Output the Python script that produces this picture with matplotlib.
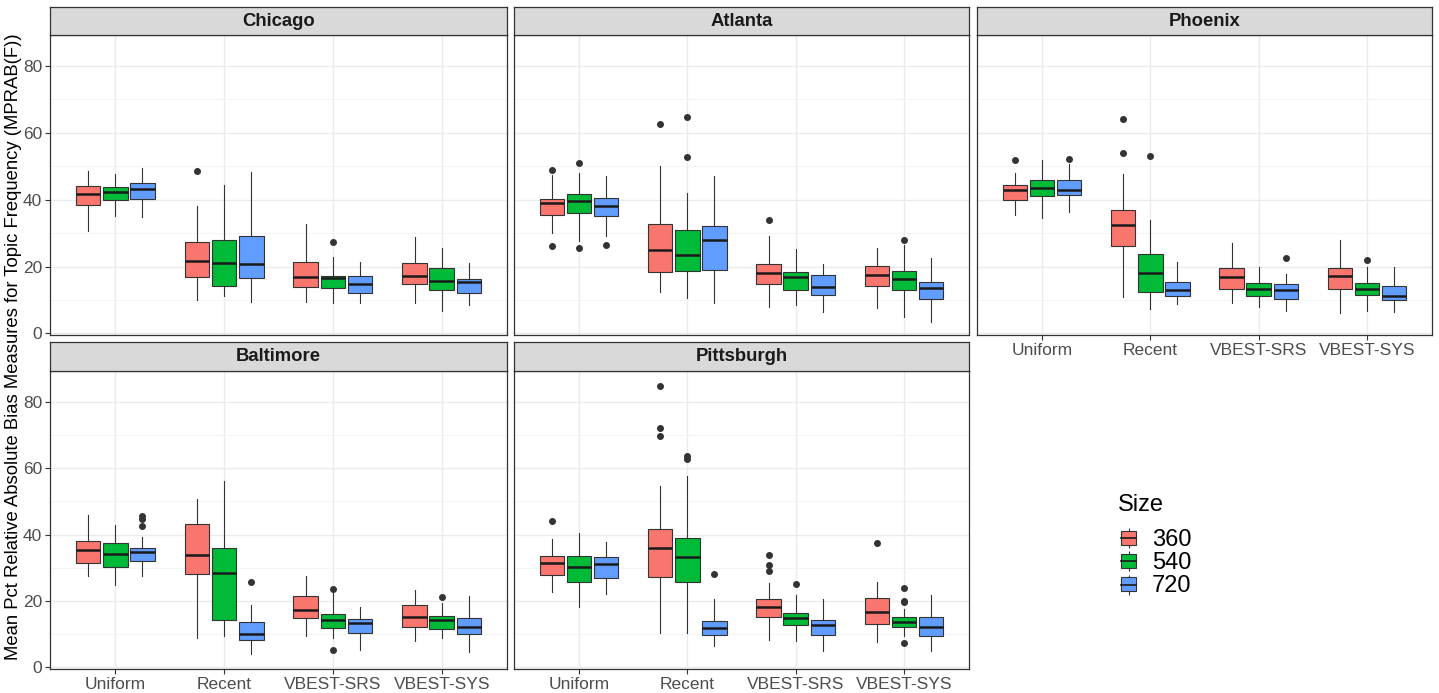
import matplotlib
matplotlib.use("Agg")
import matplotlib.pyplot as plt
from matplotlib.patches import Patch
from matplotlib.lines import Line2D
from matplotlib.legend_handler import HandlerTuple

plt.rcParams['font.family'] = ['Liberation Sans', 'DejaVu Sans']

# categories
methods = ["Uniform", "Recent", "VBEST-SRS", "VBEST-SYS"]
sizes = ["360", "540", "720"]
colors = ["#F8766D", "#00BA38", "#619CFF"]

# box stats: (whislo, q1, med, q3, whishi)
# order: Uniform 360/540/720, Recent 360/540/720, VBEST-SRS ..., VBEST-SYS ...
chicago_box = [
    [30.7, 38.5, 41.7, 44.2, 48.5], [35.2, 39.9, 42.2, 43.8, 47.8], [34.8, 40.3, 43.3, 45.0, 49.5],
    [10.0, 16.8, 21.8, 27.2, 38.2], [11.3, 14.3, 21.2, 27.9, 44.5], [9.3, 16.5, 20.9, 29.2, 48.3],
    [9.3, 14.0, 17.0, 21.3, 32.7], [9.0, 13.5, 16.5, 17.2, 22.8], [9.0, 12.0, 14.7, 17.2, 21.3],
    [9.0, 14.8, 17.2, 21.0, 28.7], [6.8, 13.0, 15.8, 19.5, 25.6], [8.4, 12.0, 15.5, 16.4, 21.2],
]
chicago_out = [[], [], [], [48.5], [], [], [], [27.3], [], [], [], []]

atlanta_box = [
    [30.0, 35.3, 38.9, 40.3, 47.5], [27.7, 36.0, 39.7, 41.7, 48.0], [29.0, 35.0, 38.1, 40.6, 47.0],
    [12.3, 18.3, 24.8, 32.7, 50.0], [10.5, 18.7, 23.4, 30.8, 42.0], [9.0, 19.0, 28.0, 32.2, 47.0],
    [8.0, 14.8, 18.0, 20.7, 29.0], [8.5, 13.0, 17.0, 18.5, 25.3], [6.5, 11.5, 14.0, 17.5, 20.8],
    [7.7, 14.3, 17.4, 20.2, 25.5], [5.0, 13.0, 16.3, 18.8, 26.5], [3.5, 10.2, 13.6, 15.5, 22.5],
]
atlanta_out = [[48.8, 26.2], [51.0, 25.4], [26.5], [62.6], [64.9, 52.9], [],
               [33.9], [], [], [], [28.0], []]

phoenix_box = [
    [35.5, 39.9, 42.9, 44.4, 48.0], [34.5, 41.0, 43.6, 46.0, 52.0], [36.3, 41.5, 43.0, 45.8, 50.8],
    [11.0, 26.2, 32.4, 36.8, 47.8], [7.2, 12.3, 18.0, 23.7, 34.0], [8.8, 11.1, 13.0, 15.3, 21.3],
    [9.0, 13.2, 17.0, 19.5, 27.0], [8.0, 11.1, 13.4, 15.2, 20.0], [6.8, 10.2, 12.9, 14.7, 17.8],
    [6.0, 13.2, 17.2, 19.7, 27.8], [6.7, 11.4, 13.3, 15.2, 19.8], [6.5, 9.9, 11.2, 14.2, 19.8],
]
phoenix_out = [[51.8], [], [52.3], [64.3, 54.0], [53.2], [],
               [], [], [22.5], [], [21.9], []]

baltimore_box = [
    [27.4, 31.4, 35.4, 38.0, 45.9], [24.7, 30.3, 34.2, 37.4, 42.9], [27.6, 32.0, 34.8, 36.0, 39.4],
    [8.7, 28.1, 33.8, 43.1, 50.8], [9.5, 14.4, 28.3, 36.0, 56.1], [4.0, 8.3, 10.1, 13.7, 18.9],
    [9.5, 15.0, 17.2, 21.6, 27.4], [8.7, 12.0, 14.3, 16.0, 22.4], [5.3, 10.3, 13.3, 14.5, 18.1],
    [8.0, 12.3, 15.3, 18.9, 23.4], [8.7, 11.7, 14.2, 15.5, 19.4], [4.5, 10.0, 12.3, 14.9, 21.4],
]
baltimore_out = [[], [], [45.7, 44.7, 42.7], [], [], [25.7],
                 [], [23.6, 5.2], [], [], [21.3], []]

pittsburgh_box = [
    [22.7, 27.8, 31.3, 33.6, 38.6], [18.2, 25.6, 30.2, 33.6, 40.4], [22.1, 27.0, 31.1, 33.1, 37.9],
    [10.3, 27.3, 35.9, 41.8, 54.6], [10.3, 25.7, 33.2, 39.0, 57.8], [6.5, 9.6, 12.0, 14.0, 20.6],
    [8.2, 15.3, 18.1, 20.6, 25.4], [7.8, 12.8, 14.9, 16.5, 21.9], [5.0, 9.8, 12.9, 14.3, 20.6],
    [7.7, 13.2, 16.7, 20.8, 25.7], [9.5, 12.2, 13.7, 15.3, 17.5], [4.8, 9.5, 12.1, 15.3, 21.7],
]
pittsburgh_out = [[44.2], [], [], [84.9, 72.2, 69.7], [63.6, 62.8], [28.2],
                  [33.9, 30.9, 29.0], [25.2], [], [37.4], [23.8, 19.9, 19.7, 7.3], []]

cities = ["Chicago", "Atlanta", "Phoenix", "Baltimore", "Pittsburgh"]
city_box = [chicago_box, atlanta_box, phoenix_box, baltimore_box, pittsburgh_box]
city_out = [chicago_out, atlanta_out, phoenix_out, baltimore_out, pittsburgh_out]

W, H = 1439, 693
fig = plt.figure(figsize=(W / 100, H / 100), dpi=100)

# panel boxes in pixels: left, right, strip top, panel top, panel bottom
col_x = [(50, 507), (514, 969), (977, 1432)]
row_y = [(7, 35, 335), (342, 371, 669)]


def px_axes(l, t, r, b):
    return fig.add_axes([l / W, 1 - b / H, (r - l) / W, (b - t) / H])


edge = "#333333"
for k, city in enumerate(cities):
    row, col = divmod(k, 3)
    l, r = col_x[col]
    st, t, b = row_y[row]

    ax = px_axes(l, t, r, b)
    stats = []
    pos = []
    cols = []
    for i in range(len(methods)):
        for j in range(len(sizes)):
            lo, q1, med, q3, hi = city_box[k][i * 3 + j]
            stats.append(dict(whislo=lo, q1=q1, med=med, q3=q3, whishi=hi,
                              fliers=city_out[k][i * 3 + j]))
            pos.append(i + 1 + (j - 1) * 0.25)
            cols.append(colors[j])
    bp = ax.bxp(stats, positions=pos, widths=0.225, patch_artist=True, showcaps=False,
                boxprops=dict(edgecolor=edge, linewidth=0.8),
                medianprops=dict(color="#1a1a1a", linewidth=1.8),
                whiskerprops=dict(color=edge, linewidth=0.8),
                flierprops=dict(marker="o", markersize=4, markerfacecolor=edge,
                                markeredgecolor=edge, linestyle="none"),
                manage_ticks=False)
    for patch, c in zip(bp["boxes"], cols):
        patch.set_facecolor(c)

    ax.set_xlim(0.4, 4.6)
    ax.set_ylim(-0.5, 89.3)
    ax.set_xticks(range(1, 5))
    ax.set_yticks([0, 20, 40, 60, 80])
    ax.set_yticks([10, 30, 50, 70], minor=True)
    ax.set_axisbelow(True)
    ax.grid(True, which="major", color="#EBEBEB", linewidth=1.0)
    ax.grid(True, which="minor", axis="y", color="#F2F2F2", linewidth=0.6)
    for s in ax.spines.values():
        s.set_color(edge)
        s.set_linewidth(0.9)
    ax.tick_params(which="minor", length=0)
    ax.tick_params(which="major", length=3.5, color=edge, labelcolor="#4D4D4D",
                   labelsize=12.5, pad=2)

    # x labels only on the lowest panel of each column, y labels on first column
    if k >= 2:
        ax.set_xticklabels(methods)
    else:
        ax.tick_params(axis="x", length=0, labelbottom=False)
    if col == 0:
        ax.set_yticklabels(["0", "20", "40", "60", "80"])
    else:
        ax.tick_params(axis="y", length=0, labelleft=False)

    sax = px_axes(l, st, r, t)
    sax.set_facecolor("#D9D9D9")
    sax.set_xticks([])
    sax.set_yticks([])
    for s in sax.spines.values():
        s.set_color(edge)
        s.set_linewidth(0.9)
    sax.text(0.5, 0.5, city, ha="center", va="center", fontsize=13.3,
             fontweight="bold", color="#1A1A1A", transform=sax.transAxes)

fig.text(14 / W, 1 - 347 / H,
         "Mean Pct Relative Absolute Bias Measures for Topic Frequency (MPRAB(F))",
         rotation=90, ha="center", va="center", fontsize=13.3)

# legend
fig.text(1118 / W, 1 - 511 / H, "Size", ha="left", va="baseline", fontsize=17)
handles = []
for c in colors:
    whisk = Line2D([], [], marker="|", markersize=14.5, color=edge,
                   markeredgewidth=0.8, linestyle="none")
    box = Patch(facecolor=c, edgecolor=edge, linewidth=0.8)
    med = Line2D([], [], color="#1a1a1a", linewidth=1.2)
    handles.append((whisk, box, med))

fig.legend(handles, sizes, loc="upper left", bbox_to_anchor=(1121 / W, 1 - 529 / H),
           frameon=False, borderpad=0, borderaxespad=0,
           fontsize=17, handlelength=0.64, handleheight=0.55,
           handletextpad=0.68, labelspacing=0.05,
           handler_map={tuple: HandlerTuple(ndivide=1)})

fig.savefig("out.png", dpi=100)
